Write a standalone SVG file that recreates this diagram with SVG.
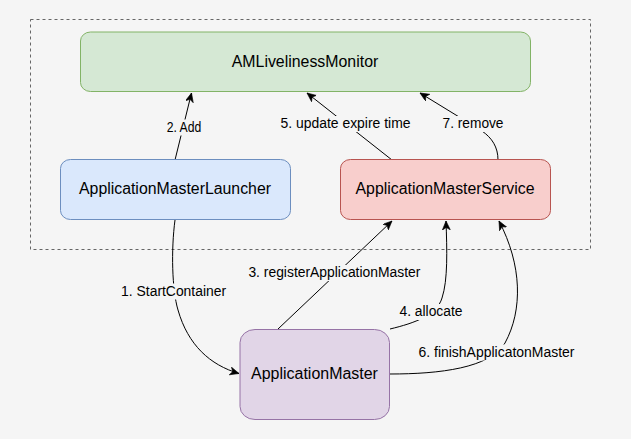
<svg xmlns="http://www.w3.org/2000/svg" width="631" height="439" viewBox="0 0 631 439">
<style>
.node text{font-family:"Liberation Sans",Arial,sans-serif;font-size:16px;fill:#000;text-anchor:middle}
.lbl text{font-family:"Liberation Sans",Arial,sans-serif;font-size:14px;fill:#000;text-anchor:middle}
.lbl rect{fill:#f5f5f5}
.edge{fill:none;stroke:#000;stroke-width:1;marker-end:url(#arr)}
</style>
<defs>
<marker id="arr" markerUnits="userSpaceOnUse" markerWidth="12" markerHeight="10" refX="9" refY="4" orient="auto">
<path d="M0,0 L9,4 L0,8 L2.5,4 Z" fill="#000" stroke="#000" stroke-width="0.6"/>
</marker>
</defs>
<rect width="631" height="439" fill="#f5f5f5"/>
<rect id="boundary" x="30.5" y="19.5" width="560" height="230" fill="none" stroke="#666" stroke-dasharray="3,3"/>
<g id="connectors">
<path class="edge" d="M175,220 C171,250 172,290 178,310 C188,345 210,365 239,373.5"/>
<path class="edge" d="M175,160 L191.5,93"/>
<path class="edge" d="M278,329 L392,221"/>
<path class="edge" d="M390,329 C415,323 437,315 442,298 C448,280 447,250 446,221"/>
<path class="edge" d="M392,160 L307,93"/>
<path class="edge" d="M390,374 C440,374 490,368 505,343 C523,310 522,265 499,221"/>
<path class="edge" d="M498,160 C498,147 492,138 482,131 L420,93"/>
<g class="lbl">
<rect x="165" y="119.5" width="38" height="16"/><text x="184" y="131.7" textLength="34.6" lengthAdjust="spacingAndGlyphs">2. Add</text>
<rect x="279" y="116" width="133" height="16"/><text x="345.5" y="128.3" textLength="130" lengthAdjust="spacingAndGlyphs">5. update expire time</text>
<rect x="441" y="116" width="64" height="16"/><text x="473" y="128.3" textLength="61" lengthAdjust="spacingAndGlyphs">7. remove</text>
<rect x="119.5" y="283.5" width="108" height="16"/><text x="173.6" y="295.7" textLength="105" lengthAdjust="spacingAndGlyphs">1. StartContainer</text>
<rect x="247" y="265" width="175" height="16"/><text x="334.4" y="277.3" textLength="172" lengthAdjust="spacingAndGlyphs">3. registerApplicationMaster</text>
<rect x="398" y="304" width="66" height="16"/><text x="431" y="316" textLength="63" lengthAdjust="spacingAndGlyphs">4. allocate</text>
<rect x="417" y="344.5" width="159" height="16"/><text x="496.5" y="356.7" textLength="156" lengthAdjust="spacingAndGlyphs">6. finishApplicatonMaster</text>
</g>
</g>
<g id="AMLivelinessMonitor" class="node">
<rect x="80.5" y="32" width="450" height="59.5" rx="10" ry="9" fill="#d5e8d4" stroke="#82b366"/>
<text x="305" y="67" textLength="146.5" lengthAdjust="spacingAndGlyphs">AMLivelinessMonitor</text>
</g>
<g id="ApplicationMasterLauncher" class="node">
<rect x="60.5" y="159.5" width="230" height="60" rx="10" ry="9" fill="#dae8fc" stroke="#6c8ebf"/>
<text x="175" y="194.2" textLength="192" lengthAdjust="spacingAndGlyphs">ApplicationMasterLauncher</text>
</g>
<g id="ApplicationMasterService" class="node">
<rect x="340.5" y="159.5" width="210" height="60" rx="10" ry="9" fill="#f8cecc" stroke="#b85450"/>
<text x="445" y="194.2" textLength="179" lengthAdjust="spacingAndGlyphs">ApplicationMasterService</text>
</g>
<g id="ApplicationMaster" class="node">
<rect x="240" y="329.5" width="149.5" height="90" rx="15" ry="13" fill="#e1d5e7" stroke="#9673a6"/>
<text x="314.5" y="379" textLength="126.8" lengthAdjust="spacingAndGlyphs">ApplicationMaster</text>
</g>
</svg>
